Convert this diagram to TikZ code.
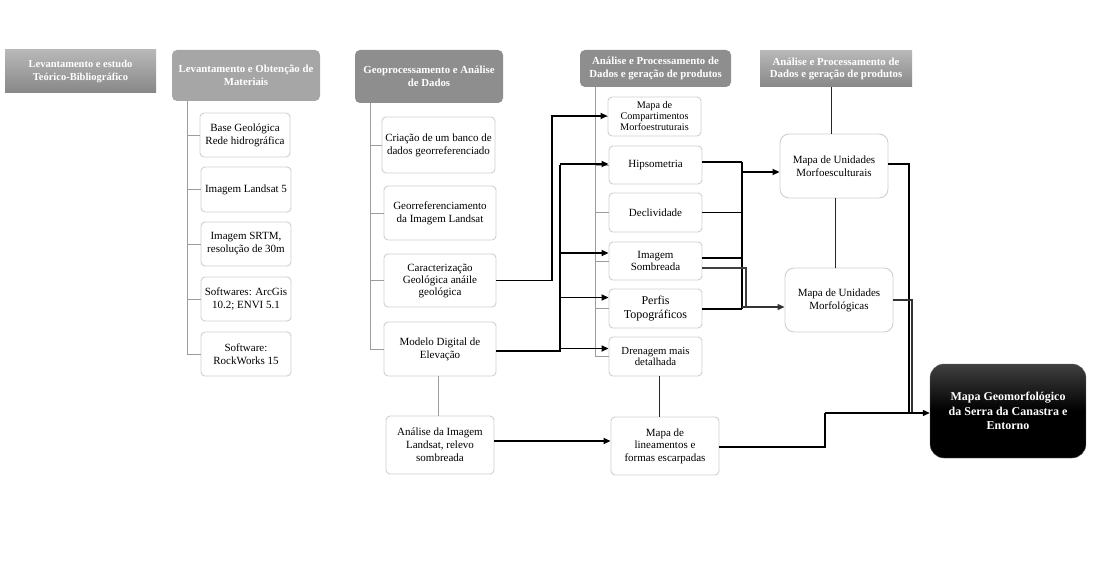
\documentclass[tikz,border=0pt]{standalone}
\usepackage{fontspec}
\setmainfont{Liberation Serif}
\usetikzlibrary{arrows.meta,calc}
\definecolor{boxline}{HTML}{CFCFCF}
\definecolor{treeline}{HTML}{9C9C9C}
\definecolor{hdrA}{HTML}{A6A6A6}
\definecolor{hdrB}{HTML}{8E8E8E}
\begin{document}
\begin{tikzpicture}[x=1pt,y=-1pt,
  cbox/.style={draw=boxline, fill=white, rounded corners=4pt, align=center,
    font=\fontsize{11}{13}\selectfont, inner sep=1pt, line width=0.9pt},
  hdr/.style={rounded corners=5pt, align=center, text=white,
    font=\fontsize{10.8}{12.5}\selectfont\bfseries, inner sep=1pt},
  hgrad/.style={top color=hdrA!80, bottom color=hdrB!95!black, align=center, text=white,
    font=\fontsize{10.5}{12.5}\selectfont\bfseries, inner sep=1pt},
  tree/.style={draw=treeline, line width=0.8pt},
  plain/.style={draw=black!85, line width=0.9pt},
  conn/.style={draw=black, line width=1.3pt},
  heavy/.style={draw=black, line width=2.4pt},
  arr/.style={-{Triangle[length=7pt,width=6pt]}},
]
\useasboundingbox (0,0) rectangle (1115,577);

% headers
\node[hgrad, minimum width=151pt, minimum height=43pt] (h1) at (80.5,71.5)
  {Levantamento e estudo\\Teórico-Bibliográfico};
\node[hdr, fill=hdrA, minimum width=148pt, minimum height=51pt] (h2) at (246,75.5)
  {Levantamento e Obtenção de\\Materiais};
\node[hdr, fill=hdrB, minimum width=148pt, minimum height=53pt] (h3) at (429,76.5)
  {Geoprocessamento e Análise\\de Dados};
\node[hdr, fill=hdrB, minimum width=151pt, minimum height=37pt] (h4) at (655.5,68.5)
  {Análise e Processamento de\\Dados e geração de produtos};
\node[hgrad, font=\fontsize{10.8}{12.5}\selectfont\bfseries, minimum width=152pt, minimum height=36pt] (h5) at (836,69)
  {Análise e Processamento de\\Dados e geração de produtos};

% column 2
\node[cbox, minimum width=90pt, minimum height=44pt] (c2a) at (245,135) {Base Geológica\\Rede hidrográfica};
\node[cbox, minimum width=90pt, minimum height=45pt] (c2b) at (246,189.5) {Imagem Landsat 5};
\node[cbox, minimum width=90pt, minimum height=44pt] (c2c) at (246,244) {Imagem SRTM,\\resolução de 30m};
\node[cbox, minimum width=90pt, minimum height=44pt] (c2d) at (246,299) {Softwares: ArcGis\\10.2; ENVI 5.1};
\node[cbox, minimum width=90pt, minimum height=44pt] (c2e) at (246,354) {Software:\\RockWorks 15};

% column 3
\node[cbox, minimum width=113pt, minimum height=56pt] (c3a) at (438.5,145) {Criação de um banco de\\dados georreferenciado};
\node[cbox, minimum width=112pt, minimum height=54pt] (c3b) at (440,213) {Georreferenciamento\\da Imagem Landsat};
\node[cbox, minimum width=112pt, minimum height=53pt, font=\fontsize{11}{12}\selectfont] (c3c) at (440,280.5) {Caracterização\\Geológica anáile\\geológica};
\node[cbox, minimum width=112pt, minimum height=54pt] (c3d) at (440,349) {Modelo Digital de\\Elevação};
\node[cbox, minimum width=108pt, minimum height=58pt] (c3e) at (440,445) {Análise da Imagem\\Landsat, relevo\\sombreada};

% column 4
\node[cbox, minimum width=93pt, minimum height=39pt, font=\fontsize{10.2}{11}\selectfont] (c4a) at (654.5,116.5) {Mapa de\\Compartimentos\\Morfoestruturais};
\node[cbox, minimum width=93pt, minimum height=38pt] (c4b) at (655.5,165) {Hipsometria};
\node[cbox, minimum width=93pt, minimum height=39pt] (c4c) at (655.5,212.5) {Declividade};
\node[cbox, minimum width=93pt, minimum height=38pt, font=\fontsize{11}{12}\selectfont] (c4d) at (655.5,261) {Imagem\\Sombreada};
\node[cbox, minimum width=93pt, minimum height=39pt, font=\fontsize{12}{13.5}\selectfont] (c4e) at (655.5,308.5) {Perfis\\Topográficos};
\node[cbox, minimum width=93pt, minimum height=39pt, font=\fontsize{10.8}{11.5}\selectfont] (c4f) at (655.5,356.5) {Drenagem mais\\detalhada};
\node[cbox, minimum width=108pt, minimum height=58pt, font=\fontsize{11}{12.5}\selectfont] (c4g) at (665,446) {Mapa de\\lineamentos e\\formas escarpadas};

% column 5
\node[cbox, rounded corners=9pt, minimum width=108pt, minimum height=64pt] (c5a) at (834,166) {Mapa de Unidades\\Morfoesculturais};
\node[cbox, rounded corners=9pt, minimum width=108pt, minimum height=64pt] (c5b) at (839,300) {Mapa de Unidades\\Morfológicas};

% final
\node[draw=black!60, top color=black!75, bottom color=black, middle color=black, rounded corners=14pt,
  minimum width=156pt, minimum height=94pt, align=center, text=white,
  font=\fontsize{12}{14.5}\selectfont\bfseries] (fin) at (1008,411)
  {Mapa Geomorfológico\\da Serra da Canastra e\\Entorno};

% tree lines
\coordinate (t2) at (187,101);
\draw[tree] (t2) |- (c2e.west);
\foreach \n in {c2a,c2b,c2c,c2d} \draw[tree] (\n.west) -- (\n.west -| t2);
\coordinate (t3) at (370,103);
\draw[tree] (t3) |- (c3d.west);
\foreach \n in {c3a,c3b,c3c} \draw[tree] (\n.west) -- (\n.west -| t3);
\coordinate (t4) at (595,87);
\draw[tree] (t4) |- (c4f.west);
\foreach \n in {c4a,c4b,c4c,c4d,c4e} \draw[tree] (\n.west) -- (\n.west -| t4);

% plain links
\draw[tree] (c3d.south -| 438,0) -- (c3e.north -| 438,0);
\draw[plain] (c4f.south -| 659,0) -- (c4g.north -| 659,0);
\draw[plain] (h5.south -| 831,0) -- (c5a.north -| 831,0);
\draw[plain] (c5a.south -| 835,0) -- (c5b.north -| 835,0);

% column 3 -> column 4
\coordinate (b1) at (552,0);
\draw[conn, line width=1.8pt, arr] (c3c.east) -| (b1 |- c3c.east) |- ([yshift=0.5pt]c4a.west);
\coordinate (b2) at (560,351);
\draw[heavy] ([yshift=-2pt]c3d.east) -- (b2) -- (b2 |- c4b.west);
\draw[conn, line width=1.8pt, arr] ([yshift=1pt]c4b.west -| b2) -- ([yshift=1pt]c4b.west);
\draw[conn, line width=1.8pt, arr] ([yshift=8pt]c4d.west -| b2) -- ([yshift=8pt]c4d.west);
\draw[conn, line width=1.8pt, arr] ([yshift=11pt]c4e.west -| b2) -- ([yshift=11pt]c4e.west);
\draw[conn, line width=1.8pt, arr] ([yshift=8pt]c4f.west -| b2) -- ([yshift=8pt]c4f.west);
\draw[conn, line width=1.8pt, arr] ([yshift=4pt]c3e.east) -- ([yshift=4pt]c3e.east -| c4g.west);

% column 4 -> column 5
\coordinate (b3) at (742,0);
\coordinate (b4) at (746,0);
\draw[conn] ([yshift=3pt]c4b.east) -- ([yshift=3pt]c4b.east -| b3);
\draw[conn, line width=1.1pt] (c4c.east) -- (c4c.east -| b3);
\draw[heavy, line width=2pt] ([yshift=3pt]c4d.east) -- ([yshift=3pt]c4d.east -| b3);
\draw[heavy, line width=2pt] (c4e.east) -- (c4e.east -| b3);
\draw[heavy] ([yshift=3pt]c4b.east -| b3) -- (c4e.east -| b3);
\draw[draw=black!75, line width=1.2pt] ([yshift=-7pt]c4d.east) -| ([yshift=-7pt]c5b.west -| b4);
\draw[conn, line width=2pt, arr] ([yshift=-6pt]c5a.west -| b3) -- ([yshift=-6pt]c5a.west);
\draw[draw=black!80, line width=1.2pt, arr] ([yshift=-7pt]c5b.west -| b3) -- ([yshift=-7pt]c5b.west);

% column 5 -> final
\coordinate (fw) at ([yshift=-2pt]fin.west);
\coordinate (b5) at (909,0);
\coordinate (b6) at (912,0);
\draw[conn, line width=1.1pt] ([yshift=2pt]c5a.east) -| (fw -| b5);
\draw[draw=black!80, line width=1.3pt] (c5b.east) -| (fw -| b6);
\coordinate (b7) at (825,0);
\draw[conn, line width=1.1pt] ([yshift=-1pt]c4g.east) -| (b7 |- fw);
\draw[conn, line width=1.1pt, arr] (b7 |- fw) -- (fw);
\end{tikzpicture}
\end{document}
